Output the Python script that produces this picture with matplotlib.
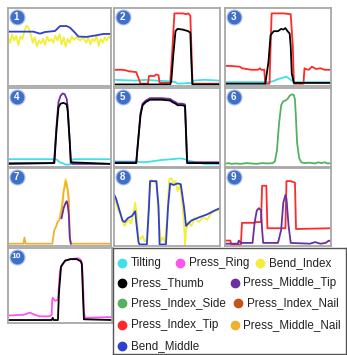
import matplotlib
matplotlib.use("Agg")
import matplotlib.pyplot as plt

plt.rcParams['font.family'] = ['Liberation Sans', 'DejaVu Sans']

W, H = 347, 355

# 颜色
colors = {
    'Tilting': '#3fe0e8',
    'Press_Ring': '#ff55ee',
    'Bend_Index': '#f2ee3a',
    'Press_Thumb': '#000000',
    'Press_Middle_Tip': '#6a2fa0',
    'Press_Index_Side': '#55b060',
    'Press_Index_Nail': '#c0561b',
    'Press_Index_Tip': '#ff2a2a',
    'Press_Middle_Nail': '#f0b030',
    'Bend_Middle': '#2f3fd0',
}

# ---- 数据 (x: 0-100 时间百分比, y: 0-1 归一化) ----
# 1
p1_bend_middle_x = [0, 24.6, 27.8, 31.1, 35.9, 45.6, 48.9, 50.5, 57, 60.2, 65, 68.3, 76.4, 86.1, 92.6, 100]
p1_bend_middle_y = [0.694, 0.694, 0.681, 0.668, 0.689, 0.702, 0.745, 0.766, 0.766, 0.745, 0.681, 0.63, 0.626, 0.647, 0.664, 0.664]
p1_bend_index_x = [0, 2, 4, 6, 8, 10, 12, 14, 16, 18, 20, 22, 24, 26, 28, 30, 32, 34, 36, 38, 40, 42, 44, 46,
                   48, 50, 52, 54, 56, 58, 60, 62, 64, 66, 68, 70, 72, 74, 76, 78, 80, 82, 84, 86, 88, 90,
                   92, 94, 96, 98, 100]
p1_bend_index_y = [0.62, 0.55, 0.66, 0.58, 0.64, 0.52, 0.63, 0.6, 0.7, 0.77, 0.74, 0.66, 0.55, 0.62, 0.5, 0.58,
                   0.54, 0.6, 0.52, 0.63, 0.57, 0.6, 0.55, 0.64, 0.58, 0.66, 0.53, 0.62, 0.5, 0.6, 0.55, 0.63,
                   0.59, 0.62, 0.6, 0.58, 0.61, 0.6, 0.55, 0.62, 0.53, 0.6, 0.57, 0.64, 0.51, 0.6, 0.55, 0.62,
                   0.58, 0.63, 0.6]
# 2
p2_index_tip_x = [0, 8, 12, 14, 21, 22, 24, 25, 32, 33, 38, 40, 42, 43, 53, 55, 57, 65, 68, 70, 72, 73, 74, 100]
p2_index_tip_y = [0.2, 0.2, 0.19, 0.18, 0.17, 0.13, 0.06, 0.02, 0.02, 0.12, 0.12, 0.14, 0.13, 0.03, 0.03, 0.45,
                  0.93, 0.93, 0.92, 0.93, 0.9, 0.5, 0.02, 0.02]
p2_thumb_x = [0, 53, 54, 56, 58, 60, 65, 70, 72, 73, 74, 100]
p2_thumb_y = [0.01, 0.01, 0.05, 0.4, 0.7, 0.73, 0.72, 0.7, 0.68, 0.3, 0.01, 0.01]
p2_tilting_x = [0, 20, 30, 40, 53, 58, 60, 73, 75, 85, 100]
p2_tilting_y = [0.07, 0.06, 0.07, 0.06, 0.05, 0.04, 0.02, 0.03, 0.06, 0.07, 0.06]
# 3
p3_index_tip_x = [0, 5, 14, 16, 25, 31, 33, 34, 37, 38, 42, 43, 44, 55, 62, 64, 65, 74, 75, 76, 79, 82, 86, 90, 94, 100]
p3_index_tip_y = [0.25, 0.25, 0.24, 0.22, 0.2, 0.2, 0.22, 0.2, 0.2, 0.02, 0.02, 0.5, 0.93, 0.93, 0.92, 0.5, 0.02,
                  0.02, 0.22, 0.21, 0.2, 0.24, 0.21, 0.22, 0.2, 0.2]
p3_thumb_x = [0, 38, 41, 43, 46, 50, 53, 55, 57, 59, 61, 62, 63, 65, 100]
p3_thumb_y = [0.02, 0.02, 0.3, 0.65, 0.7, 0.7, 0.73, 0.72, 0.74, 0.7, 0.67, 0.5, 0.15, 0.03, 0.03]
p3_tilting_x = [0, 40, 45, 50, 55, 58, 61, 65, 100]
p3_tilting_y = [0.04, 0.04, 0.05, 0.08, 0.1, 0.11, 0.08, 0.04, 0.04]
# 4
p4_middle_tip_x = [0, 44, 45, 47, 49, 51, 53, 55, 57, 58, 60, 61, 62, 100]
p4_middle_tip_y = [0.04, 0.04, 0.1, 0.5, 0.82, 0.9, 0.93, 0.92, 0.86, 0.75, 0.3, 0.05, 0.03, 0.03]
p4_thumb_x = [0, 45, 47, 49, 51, 54, 57, 58, 60, 61, 100]
p4_thumb_y = [0.03, 0.04, 0.45, 0.75, 0.8, 0.81, 0.79, 0.7, 0.3, 0.05, 0.03]
p4_tilting_x = [0, 45, 48, 50, 53, 56, 60, 62, 64, 100]
p4_tilting_y = [0.09, 0.09, 0.08, 0.05, 0.04, 0.02, 0.02, 0.08, 0.09, 0.09]
# 5
p5_thumb_x = [0, 21, 22, 25, 27, 30, 34, 45, 53, 55, 58, 60, 64, 67, 68, 69, 100]
p5_thumb_y = [0.04, 0.04, 0.2, 0.65, 0.78, 0.82, 0.85, 0.85, 0.84, 0.82, 0.8, 0.78, 0.78, 0.77, 0.4, 0.04, 0.04]
p5_middle_tip_x = [0, 21, 22, 25, 27, 30, 34, 45, 53, 55, 58, 60, 64, 67, 68, 69, 100]
p5_middle_tip_y = [0.05, 0.05, 0.22, 0.68, 0.8, 0.84, 0.87, 0.87, 0.86, 0.84, 0.82, 0.8, 0.8, 0.79, 0.42, 0.05, 0.05]
p5_tilting_x = [0, 20, 28, 35, 45, 55, 62, 67, 70, 78, 85, 100]
p5_tilting_y = [0.06, 0.06, 0.05, 0.06, 0.08, 0.09, 0.1, 0.09, 0.07, 0.05, 0.03, 0.03]
# 6
p6_index_side_x = [0, 3, 6, 10, 15, 20, 25, 30, 35, 40, 45, 47, 49, 51, 53, 55, 57, 59, 61, 63, 65, 66, 67, 68,
                   70, 72, 75, 80, 85, 88, 91, 94, 97, 100]
p6_index_side_y = [0.03, 0.04, 0.03, 0.035, 0.03, 0.04, 0.035, 0.03, 0.04, 0.035, 0.04, 0.06, 0.2, 0.55, 0.78,
                   0.83, 0.84, 0.86, 0.9, 0.92, 0.91, 0.85, 0.6, 0.3, 0.1, 0.05, 0.04, 0.045, 0.035, 0.05, 0.04,
                   0.05, 0.035, 0.04]
# 7
p7_middle_nail_x = [0, 15, 16, 17, 43, 45, 47, 48, 50, 52, 53, 54, 55, 56, 57, 58, 59, 60, 61, 100]
p7_middle_nail_y = [0.02, 0.02, 0.1, 0.02, 0.02, 0.2, 0.25, 0.3, 0.33, 0.45, 0.55, 0.7, 0.75, 0.83, 0.78, 0.72,
                    0.6, 0.1, 0.02, 0.02]
p7_bend_index_x = [50, 52, 54, 55, 56, 57, 58, 59]
p7_bend_index_y = [0.35, 0.5, 0.7, 0.78, 0.86, 0.8, 0.7, 0.55]
p7_middle_tip_x = [52, 54, 56, 57, 58, 59, 60, 61]
p7_middle_tip_y = [0.35, 0.48, 0.55, 0.57, 0.52, 0.4, 0.1, 0.02]
# 8
p8_bend_middle_x = [0, 2, 5, 8, 10, 13, 17, 20, 21, 23, 24, 31, 33, 34, 40, 42, 43, 49, 51, 53, 56, 60, 63, 66,
                    68, 70, 73, 80, 88, 95, 100]
p8_bend_middle_y = [0.66, 0.6, 0.46, 0.32, 0.3, 0.35, 0.38, 0.44, 0.3, 0.05, 0.01, 0.01, 0.5, 0.83, 0.83, 0.5,
                    0.01, 0.01, 0.5, 0.8, 0.78, 0.8, 0.79, 0.5, 0.25, 0.28, 0.32, 0.36, 0.4, 0.45, 0.48]
p8_bend_index_x = [0, 2, 4, 6, 8, 10, 12, 14, 16, 18, 20, 21, 23, 25, 27, 29, 31, 33, 35, 38, 40, 42, 44, 46, 48,
                   50, 52, 54, 56, 58, 60, 62, 64, 66, 67, 68, 70, 73, 76, 80, 84, 88, 92, 96, 100]
p8_bend_index_y = [0.6, 0.55, 0.45, 0.4, 0.3, 0.25, 0.3, 0.33, 0.28, 0.4, 0.55, 0.45, 0.1, 0.08, 0.12, 0.05,
                   0.08, 0.6, 0.85, 0.82, 0.8, 0.4, 0.05, 0.1, 0.04, 0.3, 0.85, 0.87, 0.8, 0.83, 0.7, 0.78, 0.6,
                   0.3, 0.0, 0.2, 0.3, 0.25, 0.35, 0.3, 0.36, 0.33, 0.42, 0.45, 0.45]
# 9
p9_index_tip_x = [0, 5, 6, 15, 16, 28, 29, 34, 35, 39, 40, 57, 58, 62, 66, 67, 100]
p9_index_tip_y = [0.06, 0.06, 0.01, 0.01, 0.29, 0.29, 0.3, 0.3, 0.77, 0.77, 0.22, 0.22, 0.83, 0.83, 0.81, 0.21, 0.22]
p9_middle_tip_x = [0, 12, 13, 15, 26, 28, 30, 32, 34, 35, 36, 50, 53, 55, 57, 58, 60, 62, 80, 85, 90, 95, 98, 100]
p9_middle_tip_y = [0.02, 0.02, 0.06, 0.03, 0.03, 0.3, 0.45, 0.48, 0.45, 0.2, 0.03, 0.03, 0.2, 0.55, 0.65, 0.6,
                   0.25, 0.03, 0.02, 0.04, 0.02, 0.03, 0.06, 0.05]
# 10
p10_ring_x = [0, 15, 19, 21, 24, 30, 40, 42, 42.5, 43, 45, 48, 49, 50, 52, 55, 60, 65, 68, 70, 71, 72, 73, 74, 100]
p10_ring_y = [0.09, 0.1, 0.12, 0.13, 0.11, 0.08, 0.08, 0.1, 0.3, 0.33, 0.29, 0.3, 0.5, 0.7, 0.78, 0.83, 0.85,
              0.86, 0.86, 0.84, 0.8, 0.6, 0.15, 0.06, 0.07]
p10_thumb_x = [0, 42, 43, 44, 48, 49, 51, 55, 60, 66, 70, 71, 72, 73, 100]
p10_thumb_y = [0.03, 0.03, 0.06, 0.03, 0.03, 0.4, 0.75, 0.83, 0.85, 0.85, 0.82, 0.78, 0.4, 0.04, 0.03]

# 每个子图: (编号, 像素框 左/上/右/下, 曲线列表)
panels = [
    (1, (8, 8, 111, 86), [('Bend_Index', p1_bend_index_x, p1_bend_index_y),
                          ('Bend_Middle', p1_bend_middle_x, p1_bend_middle_y)]),
    (2, (114, 8, 220, 86), [('Tilting', p2_tilting_x, p2_tilting_y),
                            ('Press_Index_Tip', p2_index_tip_x, p2_index_tip_y),
                            ('Press_Thumb', p2_thumb_x, p2_thumb_y)]),
    (3, (225, 8, 331, 86), [('Tilting', p3_tilting_x, p3_tilting_y),
                            ('Press_Index_Tip', p3_index_tip_x, p3_index_tip_y),
                            ('Press_Thumb', p3_thumb_x, p3_thumb_y)]),
    (4, (8, 88, 111, 167), [('Tilting', p4_tilting_x, p4_tilting_y),
                            ('Press_Middle_Tip', p4_middle_tip_x, p4_middle_tip_y),
                            ('Press_Thumb', p4_thumb_x, p4_thumb_y)]),
    (5, (114, 88, 220, 167), [('Tilting', p5_tilting_x, p5_tilting_y),
                              ('Press_Middle_Tip', p5_middle_tip_x, p5_middle_tip_y),
                              ('Press_Thumb', p5_thumb_x, p5_thumb_y)]),
    (6, (225, 88, 331, 167), [('Press_Index_Side', p6_index_side_x, p6_index_side_y)]),
    (7, (8, 168, 111, 246), [('Bend_Index', p7_bend_index_x, p7_bend_index_y),
                             ('Press_Middle_Nail', p7_middle_nail_x, p7_middle_nail_y),
                             ('Press_Middle_Tip', p7_middle_tip_x, p7_middle_tip_y)]),
    (8, (114, 168, 220, 246), [('Bend_Index', p8_bend_index_x, p8_bend_index_y),
                               ('Bend_Middle', p8_bend_middle_x, p8_bend_middle_y)]),
    (9, (225, 168, 331, 246), [('Press_Index_Tip', p9_index_tip_x, p9_index_tip_y),
                               ('Press_Middle_Tip', p9_middle_tip_x, p9_middle_tip_y)]),
    (10, (8, 248, 112, 323), [('Press_Ring', p10_ring_x, p10_ring_y),
                              ('Press_Thumb', p10_thumb_x, p10_thumb_y)]),
]

# 图例布局: (名称, 标记x, 行y) 像素
legend_items = [
    ('Tilting', 122, 263), ('Press_Ring', 180, 263), ('Bend_Index', 260, 263),
    ('Press_Thumb', 122, 283), ('Press_Middle_Tip', 235, 283),
    ('Press_Index_Side', 122, 303), ('Press_Index_Nail', 238, 303),
    ('Press_Index_Tip', 122, 325), ('Press_Middle_Nail', 235, 325),
    ('Bend_Middle', 122, 346),
]


def box(l, t, r, b):
    return [l / W, 1 - b / H, (r - l) / W, (b - t) / H]


fig = plt.figure(figsize=(W / 100, H / 100), dpi=100)

for num, (l, t, r, b), series in panels:
    ax = fig.add_axes(box(l, t, r, b))
    for name, xs, ys in series:
        ax.plot(xs, ys, color=colors[name], lw=1.3, solid_joinstyle='round')
    ax.set_xlim(0, 100)
    ax.set_ylim(-0.01, 1.0)
    ax.set_xticks([])
    ax.set_yticks([])
    for sp in ax.spines.values():
        sp.set_color('#a8a8a8')
        sp.set_linewidth(1.3)
    # 编号徽章
    bx, by = 8.5 / (r - l), 1 - 9 / (b - t)
    ax.scatter([bx], [by], s=115, color='#3f6fc6', edgecolor='#a8c0ec', linewidth=0.8,
               transform=ax.transAxes, zorder=5, clip_on=False)
    ax.text(bx, by, str(num), transform=ax.transAxes, color='white',
            fontsize=7 if num < 10 else 6, fontweight='bold', ha='center', va='center', zorder=6)

# 图例
lax = fig.add_axes(box(113, 248, 346, 354))
lax.set_xlim(113, 346)
lax.set_ylim(354, 248)
lax.set_xticks([])
lax.set_yticks([])
for sp in lax.spines.values():
    sp.set_color('#555555')
    sp.set_linewidth(1.0)
for name, mx, my in legend_items:
    lax.plot([mx], [my], 'o', color=colors[name], markersize=6)
    lax.text(mx + 8.5, my, name, fontsize=8.4, va='center', ha='left', color='#222222')

fig.savefig('out.png', dpi=100)
